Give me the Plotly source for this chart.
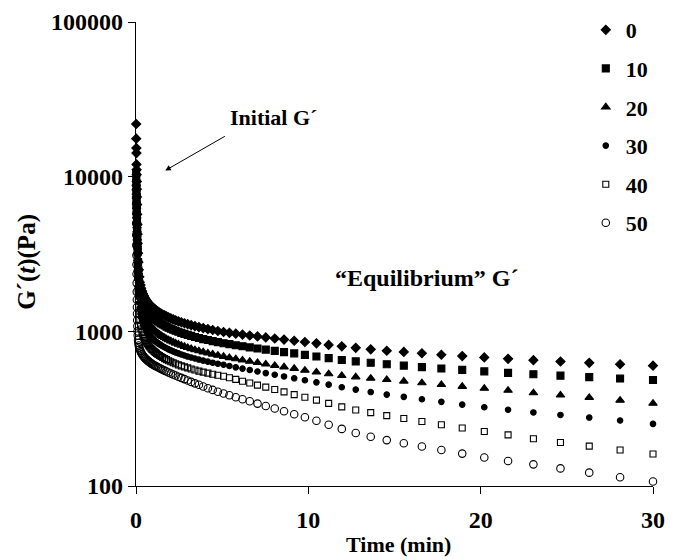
import plotly.graph_objects as go

# sampling times (min), shared by every series
TIME_MIN = [0.01, 0.015, 0.02, 0.025, 0.03, 0.035, 0.04, 0.045, 0.05, 0.055,
            0.06, 0.07, 0.08, 0.09, 0.10, 0.12, 0.14, 0.16, 0.19, 0.22,
            0.26, 0.30, 0.35, 0.40, 0.45, 0.50, 0.55, 0.60, 0.65, 0.70,
            0.75, 0.80, 0.86, 0.92,
            0.98, 1.05, 1.12, 1.19, 1.27, 1.36, 1.45, 1.55, 1.66, 1.77,
            1.89, 2.02, 2.16, 2.30, 2.46, 2.63, 2.81, 3.00, 3.20, 3.42,
            3.65, 3.90, 4.17, 4.45, 4.75, 5.08,
            5.42, 5.79, 6.18, 6.60, 7.05, 7.53, 8.05, 8.59, 9.18, 9.80,
            10.47, 11.18,
            11.94, 12.75, 13.62, 14.55, 15.54, 16.59, 17.72, 18.93, 20.21, 21.59,
            23.06, 24.63, 26.30, 28.09, 30.00]

# G'(t) in Pa for each series
G_0 = [21900, 17600, 15300, 14200, 12000, 11100, 10300, 9300, 8300, 7400,
       6600, 5700, 4900, 4250, 3700, 3200, 2800, 2500, 2250, 2080,
       1990, 1900, 1820, 1755, 1702, 1657, 1619, 1586, 1557, 1531,
       1508, 1486, 1463, 1442,
       1422, 1402, 1381, 1362, 1342, 1323, 1304, 1285, 1267, 1248,
       1230, 1213, 1195, 1178, 1161, 1145, 1128, 1112, 1096, 1080,
       1065, 1049, 1034, 1020, 1005, 990,
       978, 966, 953, 940, 927, 913, 899, 884, 869, 853, 836, 817,
       800, 782, 765, 749, 736, 722, 706, 692, 678, 664, 651, 638, 626, 613, 600]

G_10 = [10500, 9800, 9100, 8400, 7750, 7150, 6600, 6100, 5650, 5250,
        4900, 4350, 3900, 3550, 3250, 2800, 2480, 2250, 2040, 1900,
        1780, 1695, 1615, 1552, 1502, 1460, 1424, 1393, 1365, 1340,
        1317, 1296, 1273, 1252,
        1233, 1214, 1195, 1177, 1159, 1141, 1124, 1107, 1090, 1073,
        1056, 1040, 1024, 1009, 993, 978, 963, 948, 934, 919,
        905, 891, 878, 864, 851, 838,
        826, 812, 800, 787, 775, 762, 748, 734, 720, 704, 688, 671,
        653, 639, 626, 613, 600, 587, 575, 563, 551, 539, 528, 517, 506, 495, 485]

G_20 = [9000, 8400, 7900, 7400, 6900, 6400, 5950, 5550, 5150, 4800,
        4500, 4000, 3600, 3250, 2950, 2520, 2220, 2000, 1800, 1660,
        1545, 1462, 1388, 1330, 1284, 1245, 1212, 1183, 1157, 1134,
        1113, 1094, 1074, 1055,
        1038, 1021, 1004, 988, 972, 956, 940, 925, 910, 895,
        881, 866, 852, 838, 825, 811, 798, 785, 772, 759,
        747, 735, 723, 711, 700, 688,
        675, 663, 651, 639, 627, 614, 601, 588, 575, 560, 545, 531,
        517, 507, 497, 487, 476, 464, 452, 440, 428, 415, 400, 387, 373, 358, 342]

G_30 = [8000, 7500, 7000, 6550, 6100, 5700, 5300, 4950, 4600, 4280,
        4000, 3550, 3180, 2870, 2600, 2200, 1920, 1710, 1530, 1400,
        1300, 1228, 1168, 1122, 1086, 1056, 1031, 1009, 989, 971,
        954, 938, 922, 906,
        892, 878, 865, 852, 839, 826, 814, 801, 789, 777,
        765, 754, 742, 731, 720, 709, 698, 687, 677, 667,
        657, 647, 637, 627, 617, 608,
        597, 585, 574, 562, 550, 537, 524, 511, 497, 483, 468, 452,
        435, 420, 405, 390, 377, 364, 350, 336, 323, 311, 299, 288, 277, 265, 252]

G_40 = [7100, 6650, 6250, 5850, 5450, 5100, 4750, 4400, 4100, 3800,
        3550, 3150, 2800, 2500, 2250, 1880, 1630, 1450, 1290, 1180,
        1095, 1035, 985, 947, 917, 892, 871, 852, 835, 820,
        805, 792, 778, 765,
        754, 742, 731, 720, 709, 698, 687, 677, 666, 656,
        646, 636, 626, 617, 607, 598, 589, 580, 571, 562,
        553, 545, 537, 528, 520, 512,
        501, 489, 476, 463, 449, 436, 421, 406, 390, 375, 359, 342,
        325, 310, 298, 285, 273, 261, 249, 237, 225, 214, 202, 191, 181, 171, 161]

G_50 = [5000, 4200, 3600, 3100, 2700, 2350, 2050, 1800, 1600, 1430,
        1300, 1180, 1080, 1000, 940, 880, 840, 810, 785, 765,
        745, 728, 712, 698, 686, 675, 666, 658, 651, 644,
        637, 630, 623, 616,
        610, 604, 598, 592, 586, 579, 572, 565, 557, 550,
        542, 534, 526, 518, 509, 500, 491, 481, 471, 461,
        451, 440, 429, 418, 407, 396,
        386, 375, 364, 353, 341, 329, 317, 304, 291, 278, 264, 249,
        234, 220, 208, 198, 189, 180, 171, 162, 153, 145, 138, 130, 122, 114, 107]

SERIES_NAMES = ['0', '10', '20', '30', '40', '50']
SERIES_VALUES = [G_0, G_10, G_20, G_30, G_40, G_50]

X_TICKS = [0, 10, 20, 30]
Y_TICKS = [100, 1000, 10000, 100000]

SYMBOLS = ['diamond', 'square', 'triangle-up', 'circle', 'square-open', 'circle-open']
SIZES = [7, 7, 7.5, 5.5, 6, 7.5]

FONT = 'Liberation Serif'


def label(fig, text, x, y, size, **kw):
    fig.add_annotation(text=text, xref='paper', yref='paper', x=x, y=y,
                       xanchor='center', yanchor='middle', showarrow=False,
                       font=dict(size=size), **kw)


def main():
    fig = go.Figure()

    for name, values, symbol, size in zip(SERIES_NAMES, SERIES_VALUES, SYMBOLS, SIZES):
        assert len(values) == len(TIME_MIN)
        fig.add_trace(go.Scatter(
            x=TIME_MIN, y=values, name=name, mode='markers',
            legendgroup=name, cliponaxis=False,
            marker=dict(symbol=symbol, size=size, color='black',
                        line=dict(color='black', width=1.1)),
        ))

    axis_style = dict(showgrid=False, zeroline=False, showline=True,
                      linecolor='black', linewidth=1.3, ticks='outside',
                      ticklen=7, tickwidth=1.3, tickcolor='black',
                      tickfont=dict(size=24))

    fig.update_xaxes(range=[0, 30], tickvals=X_TICKS, ticklabelstandoff=5,
                     **axis_style)
    fig.update_yaxes(type='log', range=[2, 5], tickvals=Y_TICKS,
                     ticktext=[str(v) for v in Y_TICKS], ticklabelstandoff=0,
                     **axis_style)

    # texts and arrow
    label(fig, 'Initial G´', 0.2657, 0.795, 22)
    fig.add_annotation(text='', x=1.7, y=4.04, xref='x', yref='y',
                       ax=61, ay=-35, showarrow=True, arrowhead=2,
                       arrowsize=1.1, arrowwidth=1, arrowcolor='black')
    label(fig, '“Equilibrium” G´', 0.562, 0.448, 24)
    label(fig, 'Time (min)', 0.508, -0.127, 22)
    label(fig, 'G´(<i>t</i>)(Pa)', -0.21, 0.484, 25, textangle=-90)

    # the page body adds 8px on the top and left, margins allow for it
    fig.update_layout(
        width=676, height=560,
        margin=dict(l=128, r=31, t=14, b=82, autoexpand=False),
        plot_bgcolor='white', paper_bgcolor='white',
        font=dict(family=FONT, size=22, color='black', weight='bold'),
        legend=dict(x=0.87, y=1.028, xanchor='left', yanchor='top',
                    traceorder='grouped', tracegroupgap=7,
                    bgcolor='rgba(0,0,0,0)', font=dict(size=22)),
    )

    fig.write_html('out.html')


if __name__ == '__main__':
    main()
